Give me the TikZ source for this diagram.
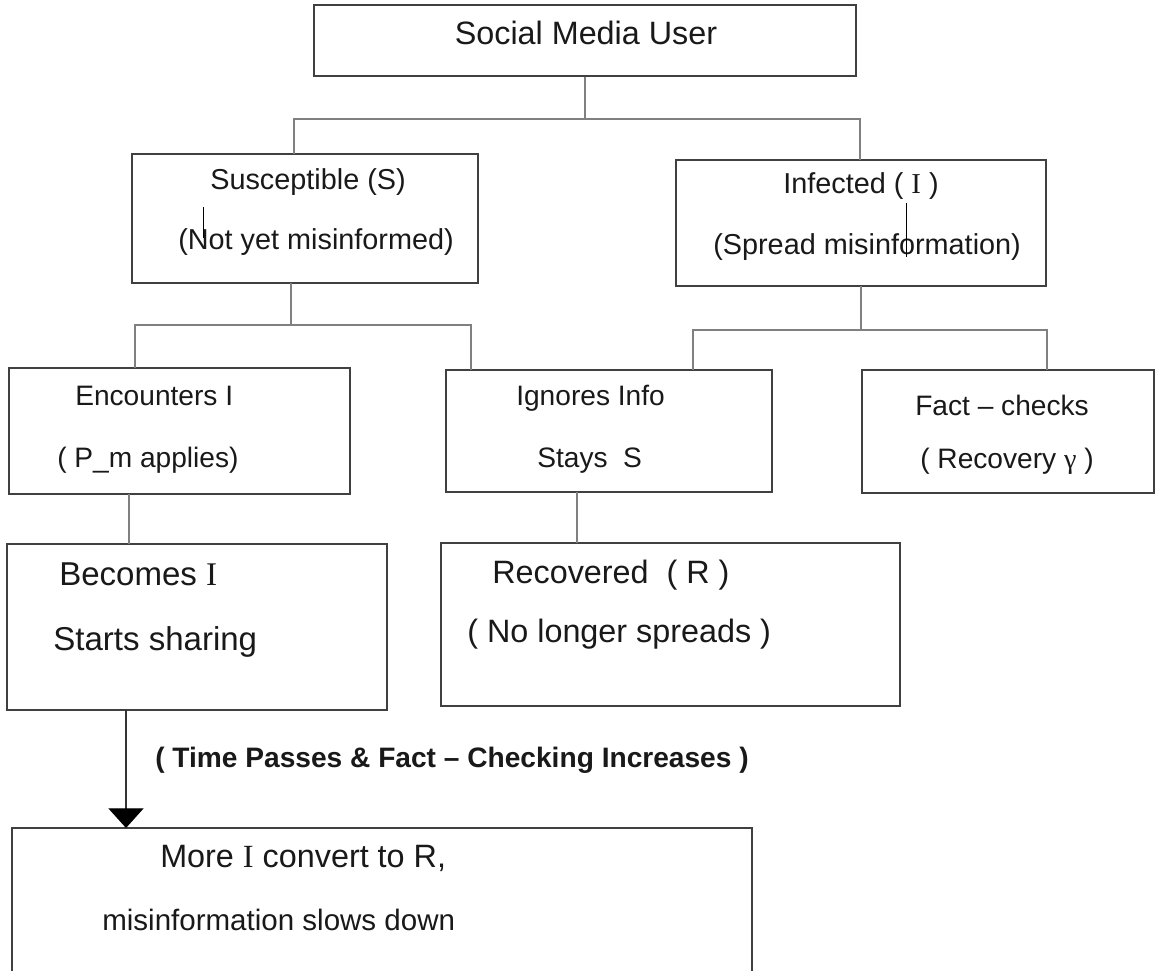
\documentclass[tikz,border=0pt]{standalone}
\usepackage{fontspec}
\setmainfont{Liberation Sans}
\newfontfamily\serifI{Liberation Serif}
\usetikzlibrary{arrows.meta}

\tikzset{
  box/.style={draw=black!75, line width=1pt, rectangle, inner sep=0pt},
  conn/.style={draw=black!50, line width=1.4pt},
  arr/.style={draw=black!80, line width=0.9pt, -{Triangle[width=25pt,length=14pt,color=black]}},
  lbl/.style={anchor=base west, inner sep=0pt, text=black!90},
  fbig/.style={font=\fontsize{23}{27}\selectfont},
  fmid/.style={font=\fontsize{20.5}{24}\selectfont},
  fsml/.style={font=\fontsize{20}{24}\selectfont},
}

\begin{document}
\begin{tikzpicture}[x=0.025cm, y=-0.025cm]
\clip (0,0) rectangle (1157,971);
\fill[white] (0,0) rectangle (1157,971);

% boxes
\node[box, minimum width=13.55cm, minimum height=1.775cm] (user) at (585,40.5) {};
\node[box, minimum width=8.65cm, minimum height=3.225cm] (susc) at (305,218.5) {};
\node[box, minimum width=9.25cm, minimum height=3.15cm] (infd) at (861,223) {};
\node[box, minimum width=8.525cm, minimum height=3.15cm] (enc) at (179.5,431) {};
\node[box, minimum width=8.15cm, minimum height=3.05cm] (ign) at (609,431) {};
\node[box, minimum width=7.3cm, minimum height=3.075cm] (fact) at (1008,431.5) {};
\node[box, minimum width=9.5cm, minimum height=4.15cm] (becm) at (197,627) {};
\node[box, minimum width=11.475cm, minimum height=4.075cm] (recv) at (670.5,624.5) {};
\node[box, minimum width=18.5cm, minimum height=6.1cm] (more) at (382,950) {};

% texts
\node[fbig, anchor=base, inner sep=0pt, text=black!90] (userT) at (586,45) {Social Media User};
\node[lbl, fmid] (suscA) at (210,190) {Susceptible (S)};
\node[lbl, fmid] (suscB) at (178,250) {(Not yet misinformed)};
\node[lbl, fmid] (infdA) at (783,194) {Infected ( {\serifI I} )};
\node[lbl, fmid] (infdB) at (713,255) {(Spread misinformation)};
\node[lbl, fsml] (encA) at (75,405) {Encounters I};
\node[lbl, fsml] (encB) at (57,467) {( P\_m applies)};
\node[lbl, fsml] (ignA) at (516,405) {Ignores Info};
\node[lbl, fsml] (ignB) at (537,467) {Stays~~S};
\node[lbl, fsml] (factA) at (915,415) {Fact -- checks};
\node[lbl, fsml] (factB) at (920,468) {( Recovery {\serifI γ} )};
\node[lbl, font=\fontsize{23.5}{28}\selectfont] (becmA) at (59,585) {Becomes {\serifI I}};
\node[lbl, font=\fontsize{23.5}{28}\selectfont] (becmB) at (53,650) {Starts sharing};
\node[lbl, fbig] (recvA) at (492,583) {Recovered~~( R )};
\node[lbl, fbig] (recvB) at (467,642) {( No longer spreads )};
\node[lbl, font=\fontsize{20}{24}\selectfont\bfseries] (timeT) at (155,767) {( Time Passes \& Fact -- Checking Increases )};
\node[lbl, fbig] (moreA) at (160,867) {More {\serifI I} convert to R,};
\node[lbl, font=\fontsize{21}{25}\selectfont] (moreB) at (102,930) {misinformation slows down};

% stray cursor marks
\draw[black, line width=0.7pt] (203,207) -- (203,238);
\draw[black, line width=0.7pt] (906,203) -- (906,257);

% connectors
\coordinate (uL) at (294,154);
\coordinate (uR) at (860,160);
\draw[conn] (user.south) -- ++(0,42) coordinate (uj);
\draw[conn] (uL) |- (uj) -| (uR);

\coordinate (sS) at (291,283);
\coordinate (sL) at (135,368);
\coordinate (sR) at (471,370);
\draw[conn] (sS) -- ++(0,42) coordinate (sj);
\draw[conn] (sL) |- (sj) -| (sR);

\coordinate (iS) at (861,286);
\coordinate (iL) at (693,370);
\coordinate (iR) at (1047,370);
\draw[conn] (iS) -- ++(0,44) coordinate (ij);
\draw[conn] (iL) |- (ij) -| (iR);

\coordinate (eS) at (129,494);
\coordinate (bN) at (129,544);
\draw[conn] (eS) -- (bN);

\coordinate (gS) at (577,492);
\coordinate (rN) at (577,543);
\draw[conn] (gS) -- (rN);

\coordinate (bS) at (126,710);
\coordinate (mN) at (126,828);
\draw[arr] (bS) -- (mN);
\end{tikzpicture}
\end{document}
